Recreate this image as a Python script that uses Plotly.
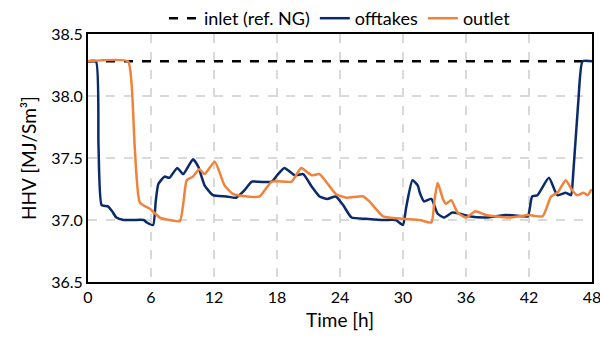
import plotly.graph_objects as go

# offtakes (blue)
off_t = [0, 0.76, 1.0, 1.3, 1.9, 2.3, 2.7, 3.4, 4.3, 5.3, 5.6, 6.2, 6.45, 6.7, 7.3, 7.75, 8.5, 9.06, 10.0, 10.5, 11.1, 11.9,
         13.2, 14.1, 14.8, 15.6, 15.9, 17.5, 18.1, 18.7, 19.7, 20.5, 21.3, 22.05, 22.8, 23.6, 24.3, 25.1, 26.5, 28.1,
         29.3, 30.0, 30.3, 30.9, 31.4, 31.6, 32.0, 32.7, 33.3, 33.9, 34.7, 35.4, 36.3, 37.9, 39.8, 41.4, 41.9, 42.3,
         42.8, 43.9, 44.7, 45.5, 46.0, 46.2, 46.7, 47.1, 48.0]
off_v = [38.28, 38.28, 37.6, 37.12, 37.11, 37.07, 37.02, 37.0, 37.0, 37.0, 36.98, 36.96, 37.15, 37.29, 37.35, 37.34, 37.42,
         37.37, 37.49, 37.43, 37.28, 37.20, 37.19, 37.18, 37.23, 37.31, 37.31, 37.31, 37.37, 37.42, 37.36, 37.37,
         37.27, 37.19, 37.17, 37.19, 37.12, 37.02, 37.01, 37.0, 37.0, 36.96, 37.1, 37.32, 37.28, 37.22, 37.15,
         37.17, 37.05, 37.02, 37.06, 37.05, 37.03, 37.02, 37.04, 37.03, 37.03, 37.19, 37.2, 37.34, 37.2, 37.22,
         37.2, 37.36, 37.96, 38.28, 38.28]

# outlet (orange)
out_t = [0, 3.8, 4.15, 4.47, 4.94, 5.9, 6.84, 7.8, 8.75, 9.1, 9.4, 10.0, 10.6, 11.1, 12.07, 13.0, 13.8, 15.1, 16.35,
         17.5, 19.4, 20.3, 21.3, 22.05, 23.6, 24.6, 26.2, 26.8, 28.1, 30.0, 31.6, 32.7, 33.0, 33.3, 33.8, 34.1, 34.6,
         35.2, 36.0, 36.9, 37.9, 40.1, 42.0, 43.3, 44.1, 44.7, 45.5, 46.1, 46.6, 47.2, 47.6, 47.9, 48.0]
out_v = [38.28, 38.28, 38.1, 37.56, 37.14, 37.09, 37.02, 37.0, 36.99, 37.15, 37.32, 37.35, 37.41, 37.37, 37.47, 37.28,
         37.21, 37.19, 37.19, 37.31, 37.31, 37.42, 37.36, 37.37, 37.21, 37.18, 37.19, 37.15, 37.03, 37.01, 37.0,
         36.98, 37.16, 37.3, 37.17, 37.13, 37.16, 37.06, 37.02, 37.07, 37.04, 37.02, 37.04, 37.03, 37.19, 37.22,
         37.32, 37.24, 37.2, 37.22, 37.2, 37.24, 37.24]

inlet_t = [0, 48]
inlet_v = [38.28, 38.28]

x_ticks = [0, 6, 12, 18, 24, 30, 36, 42, 48]
y_ticks = [36.5, 37.0, 37.5, 38.0, 38.5]

FONT = "Lato"
fig = go.Figure()
fig.add_trace(go.Scatter(x=inlet_t, y=inlet_v, mode="lines", name="inlet (ref. NG)",
                         line=dict(color="black", width=2.5, dash="dash")))
fig.add_trace(go.Scatter(x=off_t, y=off_v, mode="lines", name="offtakes",
                         line=dict(color="#0B2A6B", width=2.5, shape="spline", smoothing=0.5)))
fig.add_trace(go.Scatter(x=out_t, y=out_v, mode="lines", name="outlet",
                         line=dict(color="#F0823A", width=2.5, shape="spline", smoothing=0.5)))

fig.update_layout(
    width=600, height=348,
    margin=dict(l=88, r=8, t=34, b=66, autoexpand=False),
    paper_bgcolor="white", plot_bgcolor="white",
    font=dict(family=FONT, size=16, color="black", weight="normal"),
    legend=dict(orientation="h", x=0.5, xanchor="center", xref="paper", y=1.0, yref="container",
                yanchor="top", font=dict(size=18, family=FONT, weight="normal"),
                bgcolor="rgba(0,0,0,0)"),
    showlegend=True,
)
fig.update_xaxes(range=[0, 48], tickvals=x_ticks, ticktext=[str(v) for v in x_ticks],
                 showgrid=True, gridcolor="#D9D9D9", griddash="dash", gridwidth=1.5,
                 showline=True, linecolor="black", linewidth=2, mirror=True, ticks="",
                 ticklabeloverflow="allow", tickfont=dict(size=16, family=FONT, weight="normal"),
                 zeroline=False, automargin=False,
                 title=dict(text="Time [h]", font=dict(size=19, family=FONT, weight="normal"), standoff=8))
fig.update_yaxes(range=[36.5, 38.5], tickvals=y_ticks, ticktext=[f"{v:.1f}" for v in y_ticks],
                 showgrid=True, gridcolor="#D9D9D9", griddash="dash", gridwidth=1.5,
                 showline=True, linecolor="black", linewidth=2, mirror=True, ticks="",
                 ticklabeloverflow="allow", tickfont=dict(size=16, family=FONT, weight="normal"),
                 zeroline=False, automargin=False,
                 title=dict(text="HHV [MJ/Sm³]", font=dict(size=19, family=FONT, weight="normal"), standoff=10))

fig.write_html("out.html", config={"displayModeBar": False},
               post_script="document.body.style.margin='0';document.body.style.overflow='hidden';")
